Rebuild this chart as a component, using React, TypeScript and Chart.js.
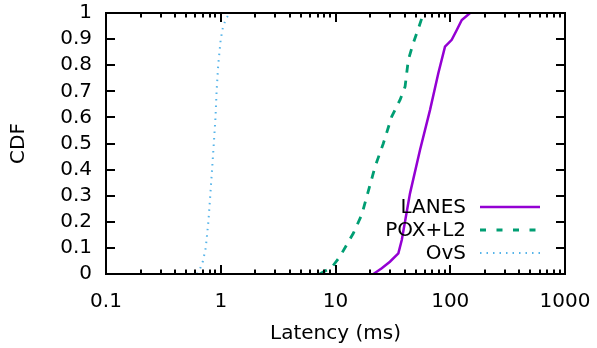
import React, { useEffect, useRef } from 'react';
import { Chart, registerables } from 'chart.js';

Chart.register(...registerables);

const seriesNames = ['LANES', 'POX+L2', 'OvS'];
const seriesColors = ['#9400D3', '#009E73', '#56B4E9'];

const lanesLatency = [21.4, 25.3, 29.8, 35.3, 37.8, 44.6, 54.5, 66.6, 78.7, 90.0, 103, 114, 126, 149];
const lanesCdf = [0, 0.022, 0.047, 0.079, 0.13, 0.309, 0.475, 0.628, 0.769, 0.871, 0.897, 0.935, 0.973, 1.0];

const poxLatency = [7.3, 9.3, 10.9, 14.3, 16.9, 20.0, 22.1, 26.1, 30.9, 36.5, 40.4, 43.1, 47.6, 52.7, 58.5];
const poxCdf = [0, 0.026, 0.066, 0.156, 0.226, 0.341, 0.411, 0.5, 0.603, 0.667, 0.718, 0.82, 0.884, 0.94, 1.0];

const ovsLatency = [0.62, 0.66, 0.70, 0.74, 0.78, 0.81, 0.84, 0.87, 0.90, 0.92, 0.95, 1.0, 1.05, 1.12, 1.20];
const ovsCdf = [0, 0.02, 0.05, 0.1, 0.2, 0.3, 0.4, 0.5, 0.6, 0.7, 0.8, 0.9, 0.95, 0.98, 1.0];

const xMajorTicks = [0.1, 1, 10, 100, 1000];
const xTickLabels = ['0.1', '1', '10', '100', '1000'];
const xMinorMultipliers = [2, 3, 4, 5, 6, 7, 8, 9];
const yTicks = [0, 0.1, 0.2, 0.3, 0.4, 0.5, 0.6, 0.7, 0.8, 0.9, 1];
const yTickLabels = ['0', '0.1', '0.2', '0.3', '0.4', '0.5', '0.6', '0.7', '0.8', '0.9', '1'];

const xTitle = 'Latency (ms)';
const yTitle = 'CDF';

const FONT_FAMILY = 'DejaVu Sans';
const FONT_SIZE = 20;

const xAllTicks: number[] = [];
xMajorTicks.forEach((m, i) => {
  xAllTicks.push(m);
  if (i < xMajorTicks.length - 1) xMinorMultipliers.forEach((k) => xAllTicks.push(m * k));
});

const toPoints = (xs: number[], ys: number[]) => xs.map((x, i) => ({ x, y: ys[i] }));

const legendDashes = [[], [6, 10.5], [1.5, 5]];

const gnuplotFrame = {
  id: 'gnuplotFrame',
  afterDatasetsDraw(chart: any) {
    const { ctx, chartArea, scales } = chart;
    const { left, right, top, bottom } = chartArea;
    const xs = scales.x;
    const ys = scales.y;
    ctx.save();
    ctx.strokeStyle = '#000';
    ctx.lineWidth = 2;
    ctx.setLineDash([]);
    ctx.beginPath();
    xs.ticks.forEach((t: any) => {
      const px = Math.round(xs.getPixelForValue(t.value));
      const major = xMajorTicks.some((m) => Math.abs(m - t.value) < 1e-9);
      const len = major ? 9 : 4.5;
      ctx.moveTo(px, bottom);
      ctx.lineTo(px, bottom - len);
      ctx.moveTo(px, top);
      ctx.lineTo(px, top + len);
    });
    ys.ticks.forEach((t: any) => {
      const py = Math.round(ys.getPixelForValue(t.value));
      ctx.moveTo(left, py);
      ctx.lineTo(left + 9, py);
      ctx.moveTo(right, py);
      ctx.lineTo(right - 9, py);
    });
    ctx.stroke();
    ctx.strokeRect(left, top, right - left, bottom - top);

    // legend
    ctx.font = `${FONT_SIZE}px ${FONT_FAMILY}`;
    ctx.textAlign = 'right';
    ctx.textBaseline = 'middle';
    chart.data.datasets.forEach((ds: any, i: number) => {
      const rowY = bottom - 67 + i * 23;
      ctx.fillStyle = '#000';
      ctx.fillText(ds.label, right - 99, rowY + 1);
      ctx.strokeStyle = ds.borderColor;
      ctx.lineWidth = ds.borderWidth;
      ctx.setLineDash(legendDashes[i] || []);
      ctx.beginPath();
      ctx.moveTo(right - 85, rowY);
      ctx.lineTo(right - 25, rowY);
      ctx.stroke();
    });
    ctx.restore();
  },
};

export default function App() {
  const ref = useRef<HTMLCanvasElement | null>(null);
  useEffect(() => {
    if (!ref.current) return;
    const font = { family: FONT_FAMILY, size: FONT_SIZE };
    const chart = new Chart(ref.current, {
      type: 'line',
      data: {
        datasets: [
          {
            label: seriesNames[0],
            data: toPoints(lanesLatency, lanesCdf),
            borderColor: seriesColors[0],
            borderWidth: 2.5,
            pointRadius: 0,
            tension: 0,
          },
          {
            label: seriesNames[1],
            data: toPoints(poxLatency, poxCdf),
            borderColor: seriesColors[1],
            borderWidth: 2.8,
            borderDash: [8, 8],
            pointRadius: 0,
            tension: 0,
          },
          {
            label: seriesNames[2],
            data: toPoints(ovsLatency, ovsCdf),
            borderColor: seriesColors[2],
            borderWidth: 2,
            borderDash: [1.5, 5],
            pointRadius: 0,
            tension: 0,
          },
        ],
      },
      options: {
        responsive: false,
        animation: false,
        parsing: false as any,
        layout: { padding: { top: 13, right: 32, left: 0, bottom: 0 } },
        plugins: { legend: { display: false }, tooltip: { enabled: false } },
        scales: {
          x: {
            type: 'logarithmic',
            min: 0.1,
            max: 1000,
            grid: { display: false, drawTicks: false },
            border: { display: false },
            afterBuildTicks: (s: any) => {
              s.ticks = xAllTicks.map((v) => ({ value: v }));
            },
            afterFit: (s: any) => {
              s.height = 74;
              s.paddingLeft = 0;
              s.paddingRight = 0;
            },
            ticks: {
              autoSkip: false,
              maxRotation: 0,
              minRotation: 0,
              padding: 16,
              color: '#000',
              font,
              callback: (v: any) => {
                const idx = xMajorTicks.findIndex((m) => Math.abs(m - Number(v)) < 1e-9);
                return idx >= 0 ? xTickLabels[idx] : '';
              },
            },
            title: { display: true, text: xTitle, color: '#000', font, padding: { top: 0, bottom: 2 } },
          },
          y: {
            min: 0,
            max: 1,
            grid: { display: false, drawTicks: false },
            border: { display: false },
            afterBuildTicks: (s: any) => {
              s.ticks = yTicks.map((v) => ({ value: v }));
            },
            afterFit: (s: any) => {
              s.width = 106;
              s.paddingTop = 0;
              s.paddingBottom = 0;
            },
            ticks: {
              autoSkip: false,
              padding: 14,
              color: '#000',
              font,
              callback: (_v: any, i: number) => yTickLabels[i],
            },
            title: { display: true, text: yTitle, color: '#000', font, padding: { top: 7, bottom: 0 } },
          },
        },
      },
      plugins: [gnuplotFrame],
    } as any);
    return () => chart.destroy();
  }, []);
  return (
    <div style={{ position: 'fixed', left: 0, top: 0, width: 597, height: 348, background: '#fff' }}>
      <canvas ref={ref} width={597} height={348} style={{ display: 'block' }} />
    </div>
  );
}
